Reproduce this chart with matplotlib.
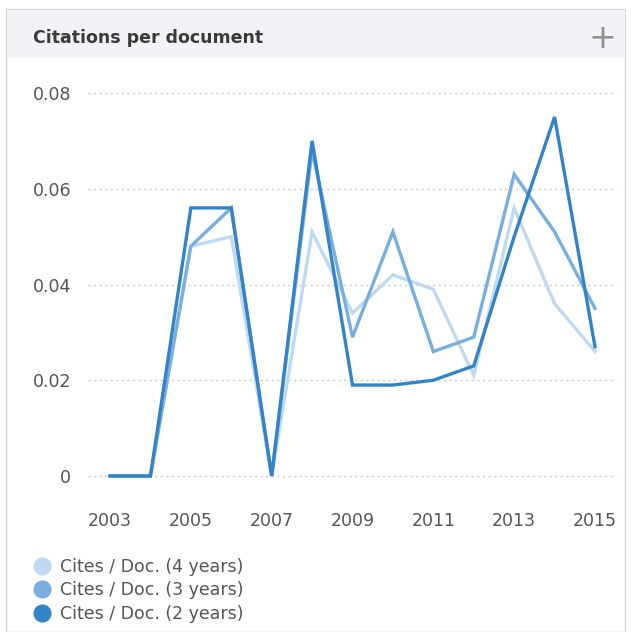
import matplotlib.pyplot as plt
from matplotlib.patches import Rectangle
from matplotlib.lines import Line2D

years = [2003, 2004, 2005, 2006, 2007, 2008, 2009, 2010, 2011, 2012, 2013, 2014, 2015]
cites_4y = [0, 0, 0.048, 0.050, 0, 0.051, 0.034, 0.042, 0.039, 0.021, 0.056, 0.036, 0.026]
cites_3y = [0, 0, 0.048, 0.056, 0, 0.068, 0.029, 0.051, 0.026, 0.029, 0.063, 0.051, 0.035]
cites_2y = [0, 0, 0.056, 0.056, 0, 0.070, 0.019, 0.019, 0.020, 0.023, 0.050, 0.075, 0.027]
labels = ['Cites / Doc. (4 years)', 'Cites / Doc. (3 years)', 'Cites / Doc. (2 years)']
colors = ['#bfdaf0', '#78afdd', '#3383c9']
xticks = [2003, 2005, 2007, 2009, 2011, 2013, 2015]
yticks = [0, 0.02, 0.04, 0.06, 0.08]
ytick_labels = ['0', '0.02', '0.04', '0.06', '0.08']

plt.rcParams['font.family'] = ['DejaVu Sans']

W, H = 631, 632
fig = plt.figure(figsize=(W / 100, H / 100), dpi=100)

# card frame + header
fig.patches.append(Rectangle((6 / W, 0), (625 - 6) / W, (H - 9) / H, transform=fig.transFigure,
                             facecolor='white', edgecolor='#d4d4d4', lw=1.0, zorder=-2))
fig.patches.append(Rectangle((7 / W, 1 - 58 / H), (624 - 7) / W, (58 - 10) / H, transform=fig.transFigure,
                             facecolor='#f1f3f6', edgecolor='none', zorder=-1))
fig.text(33 / W, 1 - 38 / H, 'Citations per document', fontsize=12.5, fontweight='bold',
         color='#3a3a3a', va='center', ha='left')
fig.text(602 / W, 1 - 38 / H, '+', fontsize=24, color='#909090', va='center', ha='center')

# axes: 2003 -> x=110px, 2015 -> x=595px ; 0 -> y=476px, 0.08 -> y=93px
left_px, right_px = 88, 616
ax = fig.add_axes([left_px / W, 1 - 476 / H, (right_px - left_px) / W, (476 - 93) / H])
ax.patch.set_alpha(0)
step = (595 - 110) / 12
ax.set_xlim(2003 - (110 - left_px) / step, 2015 + (right_px - 595) / step)
ax.set_ylim(0, 0.08)

for vals, c, lab in zip([cites_4y, cites_3y, cites_2y], colors, labels):
    ax.plot(years, vals, color=c, lw=2.4, label=lab, clip_on=False, solid_joinstyle='miter')

ax.set_yticks(yticks)
ax.set_yticklabels(ytick_labels)
ax.set_xticks(xticks)
ax.set_xticklabels([str(y) for y in xticks])
ax.grid(axis='y', color='#c8c8c8', linestyle=(0, (1.5, 2.5)), lw=1.0)
for gl in ax.get_ygridlines():
    gl.set_clip_on(False)
ax.set_axisbelow(True)
for s in ax.spines.values():
    s.set_visible(False)
ax.tick_params(length=0, labelsize=12.5, labelcolor='#555555')
ax.tick_params(axis='y', pad=12)
ax.tick_params(axis='x', pad=26)

# legend
handles = [Line2D([], [], marker='o', ls='none', markersize=12, markerfacecolor=c, markeredgecolor=c)
           for c in colors]
fig.legend(handles, labels, loc='upper left', bbox_to_anchor=(20 / W, 1 - 549 / H), frameon=False,
           fontsize=12.5, labelcolor='#555555', handletextpad=0.3, labelspacing=0.32,
           borderpad=0, handlelength=1.5)

fig.savefig('out.png', dpi=100)
